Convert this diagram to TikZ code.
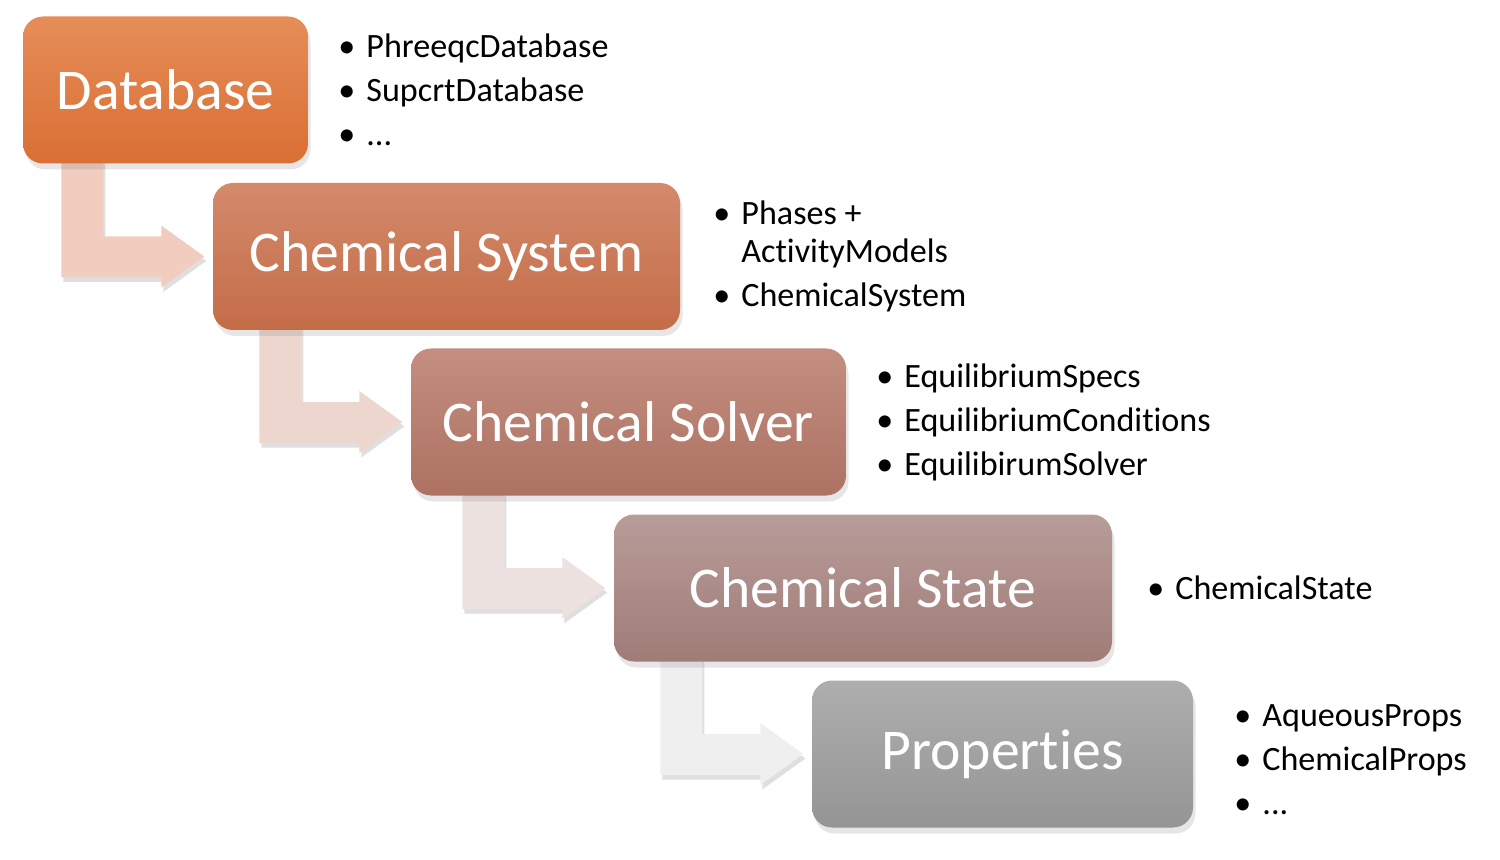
\documentclass[tikz,border=0pt]{standalone}
\usepackage{fontspec}
\setmainfont[Ligatures=NoCommon,RawFeature=-liga]{Carlito}
\usetikzlibrary{positioning,calc,shadows,backgrounds}
\definecolor{dbtop}{HTML}{E68D58}
\definecolor{dbbot}{HTML}{D96F34}
\definecolor{systop}{HTML}{D38A6B}
\definecolor{sysbot}{HTML}{C46C48}
\definecolor{soltop}{HTML}{C38E80}
\definecolor{solbot}{HTML}{AD7262}
\definecolor{sttop}{HTML}{B89C99}
\definecolor{stbot}{HTML}{A07C77}
\definecolor{prtop}{HTML}{AEAEAE}
\definecolor{prbot}{HTML}{959595}
\definecolor{arrA}{HTML}{F0CDBF}
\definecolor{arrB}{HTML}{EDD6CD}
\definecolor{arrC}{HTML}{EDE2E0}
\definecolor{arrD}{HTML}{EFEFEF}
\newcommand{\bitem}[1]{\makebox[2.8mm][l]{\textbullet}#1}

\begin{document}
\begin{tikzpicture}[x=0.1mm,y=-0.1mm,node distance=3.2mm]

\tikzset{
box/.style={
    rounded corners=2mm,
    minimum height=14.7mm,
    text=white,
    shading=axis,
    font=\fontsize{16.4}{19}\selectfont,
    drop shadow={opacity=0.2,shadow xshift=0.25mm,shadow yshift=-0.6mm}
},
list/.style={
    align=left,
    inner sep=0pt,
    font=\fontsize{9.7}{12.5}\selectfont
},
bent/.style={drop shadow={opacity=0.25,shadow xshift=0.2mm,shadow yshift=-0.45mm}}
}

\useasboundingbox (0,0) rectangle (1500,860);

\node[box, minimum width=28.5mm, top color=dbtop, bottom color=dbbot] (db) at (165.5,90) {Database};
\node[box, minimum width=46.7mm, top color=systop, bottom color=sysbot] (sys) at (446.5,256.5) {Chemical System};
\node[box, minimum width=43.5mm, top color=soltop, bottom color=solbot] (solver) at (628.5,422) {Chemical Solver};
\node[box, minimum width=49.8mm, top color=sttop, bottom color=stbot] (state) at (863,588) {Chemical State};
\node[box, minimum width=38.1mm, top color=prtop, bottom color=prbot] (props) at (1002.5,754) {Properties};

\node[list, right=2.9mm of db] (dblist) {\bitem{PhreeqcDatabase}\\ \bitem{SupcrtDatabase}\\ \bitem{...}};
\node[list, right=3.2mm of sys] (syslist) {\bitem{Phases +}\\[-0.6mm] \hspace*{2.8mm}ActivityModels\\ \bitem{ChemicalSystem}};
\node[list, right=2.9mm of solver] (solverlist) {\bitem{EquilibriumSpecs}\\ \bitem{EquilibriumConditions}\\ \bitem{EquilibirumSolver}};
\node[list, right=3.4mm of state] (statelist) {\bitem{ChemicalState}};
\node[list, right=4.0mm of props, yshift=-0.6mm] (propslist) {\bitem{AqueousProps}\\ \bitem{ChemicalProps}\\ \bitem{...}};

% bent arrows behind the boxes
\begin{scope}[on background layer]
\foreach \src/\dst/\col in {db/sys/arrA, sys/solver/arrB, solver/state/arrC, state/props/arrD}
  \fill[bent, fill=\col] ($(\dst.west |- \src.south)+(-151,-5)$) -- ($(\dst.west |- \src.south)+(-109,-5)$)
    -- ($(\dst.west)+(-109,-20)$) -- ($(\dst.west)+(-51,-20)$) -- ($(\dst.west)+(-51,-31)$)
    -- ($(\dst.west)+(-8,0)$) -- ($(\dst.west)+(-51,31)$) -- ($(\dst.west)+(-51,21)$)
    -- ($(\dst.west)+(-151,21)$) -- cycle;
\end{scope}

\end{tikzpicture}
\end{document}
